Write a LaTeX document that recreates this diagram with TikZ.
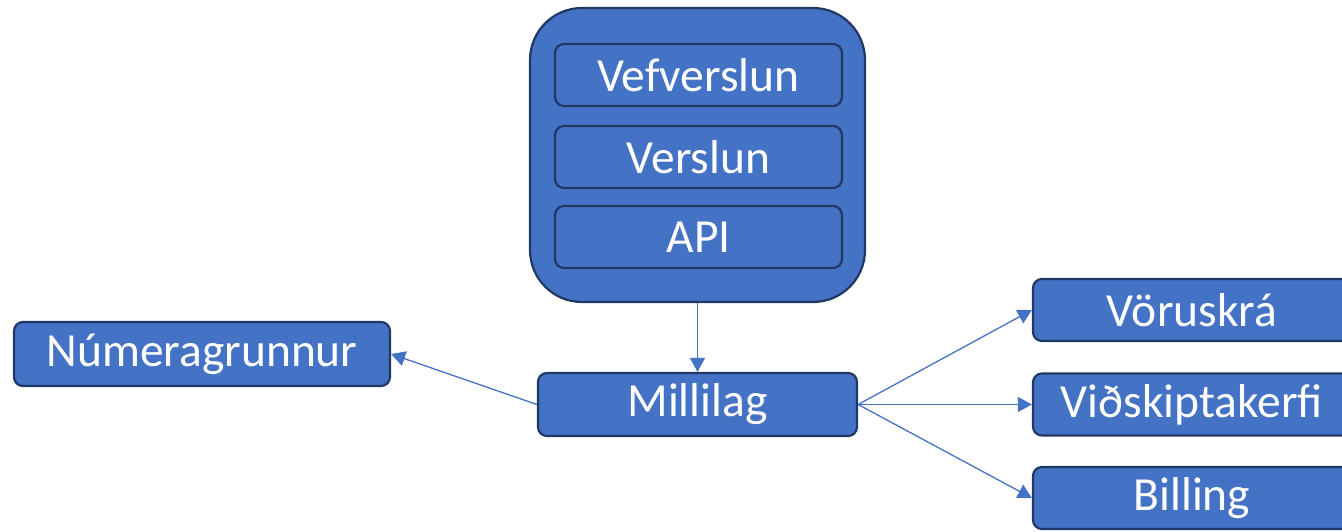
\documentclass[tikz,border=0pt]{standalone}
\usepackage{fontspec}
\setmainfont{Carlito}
\usetikzlibrary{arrows.meta}
\definecolor{boxfill}{HTML}{4472C4}
\definecolor{boxline}{HTML}{203864}
\definecolor{arrowc}{HTML}{4472C4}
\tikzset{
  box/.style={draw=boxline, fill=boxfill, line width=2.2pt, rounded corners=9pt,
    text=white, font=\fontsize{47.5}{56}\selectfont, inner sep=0pt, align=center},
  outerbox/.style={draw=boxline, fill=boxfill, line width=2.2pt, rounded corners=52pt, inner sep=0pt},
  conn/.style={draw=arrowc, line width=1.3pt, -{Triangle[length=14pt,width=15pt]}}
}
\begin{document}
\begin{tikzpicture}[x=1pt,y=-1pt]
\useasboundingbox (0,0) rectangle (1342,532);
\clip (0,0) rectangle (1342,532);
\node[outerbox, minimum width=335pt, minimum height=294pt] (outer) at (697.5,155) {};
\node[box, minimum width=287pt, minimum height=62pt] (vef) at (698.5,75) {Vefverslun};
\node[box, minimum width=287pt, minimum height=62pt] (ver) at (698.5,157) {Verslun};
\node[box, minimum width=287pt, minimum height=62pt] (api) at (698.5,237) {API};
\node[box, minimum width=319pt, minimum height=63pt] (mil) at (697.5,404.5) {Millilag};
\node[box, minimum width=376pt, minimum height=64pt] (num) at (202,354) {Númeragrunnur};
\node[box, minimum width=318pt, minimum height=62pt] (vor) at (1192,310) {Vöruskrá};
\node[box, minimum width=318pt, minimum height=62pt] (vid) at (1192,404.5) {Viðskiptakerfi};
\node[box, minimum width=318pt, minimum height=62pt] (bil) at (1192,498) {Billing};
\draw[conn] (outer.south) -- (mil.north);
\draw[conn] (mil.west) -- (num.east);
\draw[conn] (mil.east) -- (vor.west);
\draw[conn] (mil.east) -- (vid.west);
\draw[conn] (mil.east) -- (bil.west);
\end{tikzpicture}
\end{document}
